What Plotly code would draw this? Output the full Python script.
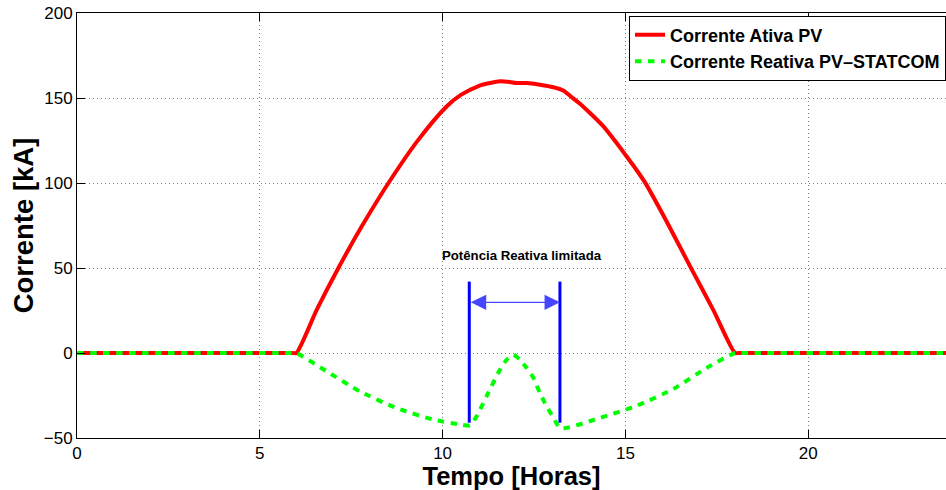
import plotly.graph_objects as go

# Time axis (hours) and currents (kA)
t_active = [0, 5.9, 6.0, 6.56, 7.15, 7.79, 8.52, 9.34, 10.11, 10.5, 11.0, 11.3, 11.57,
            11.84, 12.03, 12.3, 12.66, 13.03, 13.3, 13.5, 13.75, 14.03, 14.4, 14.76,
            15.0, 15.31, 15.54, 16.15, 16.77, 17.4, 18.0, 18.1, 23.77]
i_active = [0, 0, 0, 25.5, 50, 74.5, 100, 125.5, 145, 151.8, 157.2, 158.8, 159.8,
            159.4, 158.8, 158.8, 157.8, 156.3, 154.4, 151, 146.8, 141.2, 133.3, 123.5,
            116.6, 107.5, 100.2, 76.5, 51, 25.5, 0, 0, 0]

t_reactive = [0, 5.9, 6.0, 6.83, 7.74, 8.74, 9.75, 10.52, 10.75, 10.93, 11.2, 11.57,
              11.75, 11.93, 12.12, 12.3, 12.48, 12.66, 12.85, 13.03, 13.23, 14.3,
              15.31, 16.31, 17.22, 18.0, 18.1, 23.77]
i_reactive = [0, 0, 0, -10.8, -22.6, -32.4, -39.2, -42.2, -42.5, -37.3, -25.5, -9.8,
              -4, -1, -4, -8.8, -14.5, -23.5, -31.5, -38, -44.3, -38.2,
              -31, -21.2, -8.8, 0, 0, 0]

# Window where the reactive power is limited
limit_start = 10.73
limit_end = 13.21
marker_low = -41
marker_high = 42
arrow_level = 29.8
note_x = 12.16
note_y = 57.2
note_text = "Potência Reativa limitada"

x_ticks = [0, 5, 10, 15, 20]
y_ticks = [-50, 0, 50, 100, 150, 200]

font_family = "Liberation Sans, Arial, Helvetica, sans-serif"

fig = go.Figure()

fig.add_trace(go.Scatter(
    x=t_active, y=i_active, mode="lines", name="Corrente Ativa PV",
    line=dict(color="rgb(255,0,0)", width=4, shape="spline", smoothing=0.7),
))
fig.add_trace(go.Scatter(
    x=t_reactive, y=i_reactive, mode="lines", name="Corrente Reativa PV–STATCOM",
    line=dict(color="rgb(0,255,0)", width=4, dash="6.5px,6.5px",
              shape="spline", smoothing=0.6),
))

for xb in (limit_start, limit_end):
    fig.add_trace(go.Scatter(
        x=[xb, xb], y=[marker_low, marker_high], mode="lines", showlegend=False,
        line=dict(color="rgb(0,0,255)", width=3), hoverinfo="skip",
    ))

# Double-headed arrow spanning the limited window
fig.add_annotation(
    x=limit_end, y=arrow_level, ax=limit_start, ay=arrow_level,
    xref="x", yref="y", axref="x", ayref="y", text="",
    showarrow=True, arrowside="end+start", arrowhead=2,
    arrowsize=2.2, arrowwidth=1.4, arrowcolor="rgb(70,70,255)",
)
fig.add_annotation(
    x=note_x, y=note_y, xref="x", yref="y", text=note_text, showarrow=False,
    font=dict(family=font_family, size=13.2, color="black", weight=700),
)

axis_common = dict(
    showline=True, linecolor="black", linewidth=1,
    ticks="inside", ticklen=8, tickcolor="black", tickwidth=1,
    showgrid=True, gridcolor="rgb(130,130,130)", gridwidth=1, griddash="1px,3px",
    zeroline=False,
    tickfont=dict(family=font_family, size=17, color="black"),
)

fig.update_xaxes(
    range=[0, 23.77], tickvals=x_ticks, mirror="ticks",
    title=dict(text="Tempo [Horas]", standoff=6,
               font=dict(family=font_family, size=25.5, color="black", weight=700)),
    **axis_common,
)
fig.update_yaxes(
    range=[-50, 200], tickvals=y_ticks, mirror=False,
    title=dict(text="Corrente [kA]", standoff=2,
               font=dict(family=font_family, size=27.5, color="black", weight=700)),
    **axis_common,
)

fig.update_layout(
    width=946, height=490,
    margin=dict(l=77, r=0, t=13, b=52, autoexpand=False),
    paper_bgcolor="white", plot_bgcolor="white",
    legend=dict(
        x=1, y=0.994, xanchor="right", yanchor="top",
        bgcolor="white", bordercolor="black", borderwidth=1,
        font=dict(family=font_family, size=18, color="black", weight=700),
        tracegroupgap=0,
    ),
)

fig.write_html("out.html")
